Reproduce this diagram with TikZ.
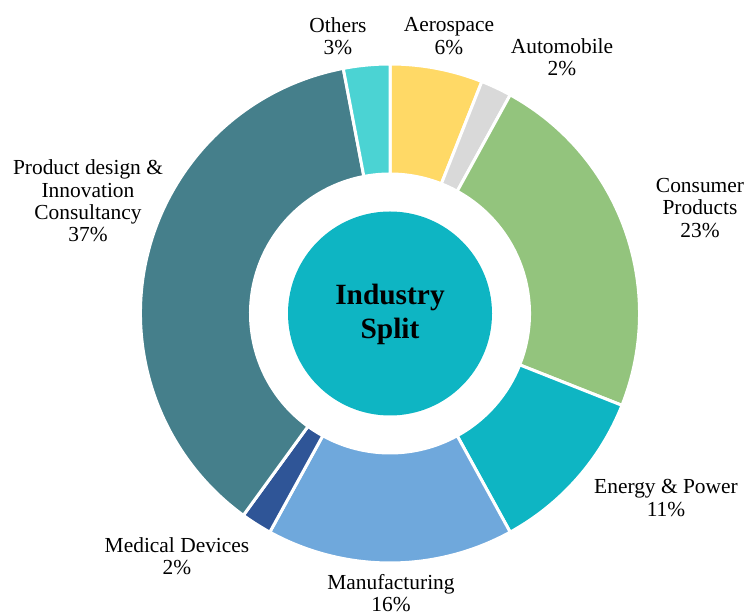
\documentclass[tikz,border=0pt]{standalone}
\usepackage{fontspec}
\setmainfont{Liberation Serif}
\usepackage{tikz}
\usetikzlibrary{positioning}
\definecolor{prodcol}{RGB}{69,127,139}
\definecolor{otherscol}{RGB}{75,211,211}
\definecolor{aerocol}{RGB}{255,217,102}
\definecolor{autocol}{RGB}{217,217,217}
\definecolor{conscol}{RGB}{147,196,125}
\definecolor{energycol}{RGB}{14,181,195}
\definecolor{manucol}{RGB}{111,168,220}
\definecolor{medcol}{RGB}{47,85,151}
\tikzstyle{seg} = [draw=white, line width=3bp, line join=round]
\tikzstyle{lbl} = [align=center, inner sep=0pt, font=\fontsize{21.5}{22.5}\selectfont]

\begin{document}
\begin{tikzpicture}[x=1bp, y=1bp]
    \useasboundingbox (0,0) rectangle (747,615);
    \begin{scope}[shift={(390,301.5)}]
        \filldraw[seg, fill=aerocol]   (90:139.5bp) arc (90:68.4:139.5bp) -- (68.4:249.5bp) arc (68.4:90:249.5bp) -- cycle;
        \filldraw[seg, fill=autocol]   (68.4:139.5bp) arc (68.4:61.2:139.5bp) -- (61.2:249.5bp) arc (61.2:68.4:249.5bp) -- cycle;
        \filldraw[seg, fill=conscol]   (61.2:139.5bp) arc (61.2:-21.6:139.5bp) -- (-21.6:249.5bp) arc (-21.6:61.2:249.5bp) -- cycle;
        \filldraw[seg, fill=energycol] (-21.6:139.5bp) arc (-21.6:-61.2:139.5bp) -- (-61.2:249.5bp) arc (-61.2:-21.6:249.5bp) -- cycle;
        \filldraw[seg, fill=manucol]   (-61.2:139.5bp) arc (-61.2:-118.8:139.5bp) -- (-118.8:249.5bp) arc (-118.8:-61.2:249.5bp) -- cycle;
        \filldraw[seg, fill=medcol]    (-118.8:139.5bp) arc (-118.8:-126:139.5bp) -- (-126:249.5bp) arc (-126:-118.8:249.5bp) -- cycle;
        \filldraw[seg, fill=prodcol]   (-126:139.5bp) arc (-126:-259.2:139.5bp) -- (-259.2:249.5bp) arc (-259.2:-126:249.5bp) -- cycle;
        \filldraw[seg, fill=otherscol] (100.8:139.5bp) arc (100.8:90:139.5bp) -- (90:249.5bp) arc (90:100.8:249.5bp) -- cycle;
        % centre disc
        \fill[energycol] (0,0) circle (102bp);
        \node[align=center, font=\fontsize{29.5}{35}\selectfont\bfseries] (title) at (0,-1) {Industry\\Split};
    \end{scope}
    % labels
    \node[lbl] (others)  at (338,579) {Others\\3\%};
    \node[lbl] (aero)    at (449,579) {Aerospace\\6\%};
    \node[lbl] (auto)    at (562,558) {Automobile\\2\%};
    \node[lbl] (cons)    at (700,407) {Consumer\\Products\\23\%};
    \node[lbl] (energy)  at (666,117) {Energy \& Power\\11\%};
    \node[lbl] (manu)    at (391,22)  {Manufacturing\\16\%};
    \node[lbl] (med)     at (177,59)  {Medical Devices\\2\%};
    \node[lbl] (prod)    at (88,414)  {Product design \&\\Innovation\\Consultancy\\37\%};
\end{tikzpicture}
\end{document}
